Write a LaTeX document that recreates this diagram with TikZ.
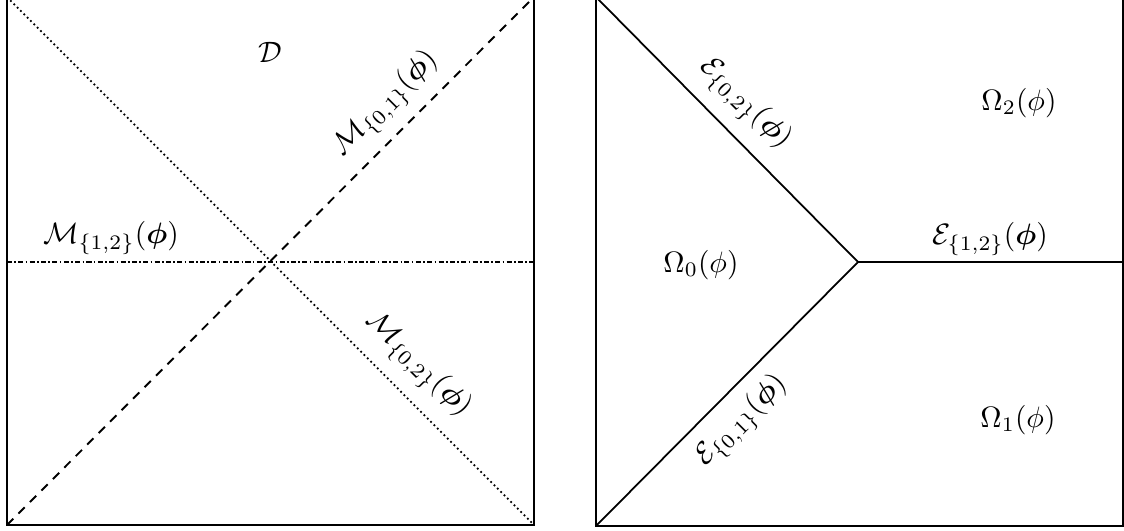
\documentclass[tikz,border=0pt]{standalone}
\usepackage{amsmath,amssymb,bm}
\begin{document}
\begin{tikzpicture}[x=0.339pt,y=-0.339pt,
  frame/.style={line width=0.7pt},
  edge/.style={line width=0.6pt},
  dotline/.style={line width=0.6pt,dash pattern=on 0.6pt off 1pt},
  dashline/.style={line width=0.65pt,dash pattern=on 3pt off 2.5pt},
  dashdotline/.style={line width=0.65pt,dash pattern=on 1.7pt off 0.8pt on 0.55pt off 0.8pt},
  lab/.style={inner sep=0pt}]
\useasboundingbox (0,0) rectangle (1124,531);
% left panel
\coordinate (LTL) at (7,-3);
\coordinate (LTR) at (534,-3);
\coordinate (LBL) at (7,525);
\coordinate (LBR) at (534,525);
\coordinate (LML) at (7,262);
\coordinate (LMR) at (534,262);
\draw[frame] (LTL) -- (LBL) -- (LBR) -- (LTR) -- cycle;
\draw[dotline] (LTL) -- (LBR);
\draw[dashline] (LBL) -- (LTR);
\draw[dashdotline] (LML) -- (LMR);
\node[lab] (D) at (270,52) {$\mathcal{D}$};
\node[lab] (M12) at (111,238) {$\mathcal{M}_{\{1,2\}}(\bm{\phi})$};
\node[lab,rotate=45] (M01) at (386,104) {$\mathcal{M}_{\{0,1\}}(\bm{\phi})$};
\node[lab,rotate=-45] (M02) at (418,365) {$\mathcal{M}_{\{0,2\}}(\bm{\phi})$};
% right panel
\coordinate (RTL) at (596,-3);
\coordinate (RTR) at (1123,-3);
\coordinate (RBL) at (596,526);
\coordinate (RBR) at (1123,526);
\coordinate (J) at (858,262);
\coordinate (RMR) at (1123,262);
\draw[frame] (RTL) -- (RBL) -- (RBR) -- (RTR) -- cycle;
\draw[edge] (RTL) -- (J);
\draw[edge] (RBL) -- (J);
\draw[edge] (J) -- (RMR);
\node[lab,rotate=-45] (E02) at (745,104) {$\mathcal{E}_{\{0,2\}}(\bm{\phi})$};
\node[lab,rotate=45] (E01) at (742,421) {$\mathcal{E}_{\{0,1\}}(\bm{\phi})$};
\node[lab] (E12) at (990,239) {$\mathcal{E}_{\{1,2\}}(\bm{\phi})$};
\node[lab] (O0) at (701,265) {$\Omega_0(\phi)$};
\node[lab] (O1) at (1018,420) {$\Omega_1(\phi)$};
\node[lab] (O2) at (1019,103) {$\Omega_2(\phi)$};
\end{tikzpicture}
\end{document}
